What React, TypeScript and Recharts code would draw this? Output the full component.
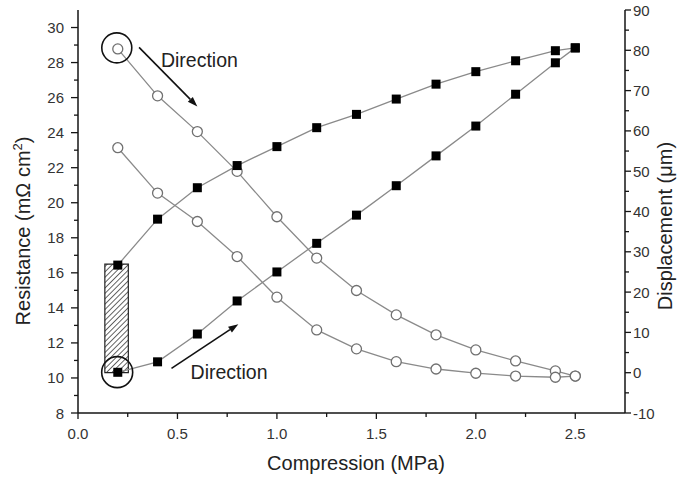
import React from "react"
import { LineChart, Line, XAxis, YAxis, ReferenceArea, ReferenceDot, ReferenceLine } from "recharts"

document.body.style.margin = "0"

const FONT = '"Liberation Sans", Arial, Helvetica, sans-serif'

// compression steps (MPa)
const compression = [0.2, 0.4, 0.6, 0.8, 1.0, 1.2, 1.4, 1.6, 1.8, 2.0, 2.2, 2.4, 2.5]
// contact resistance (mOhm cm2), left axis
const resistanceLoading = [28.78, 26.1, 24.06, 21.79, 19.2, 16.84, 14.99, 13.6, 12.46, 11.6, 10.97, 10.4, 10.11]
const resistanceUnloading = [23.14, 20.55, 18.93, 16.93, 14.61, 12.74, 11.66, 10.93, 10.51, 10.27, 10.11, 10.04, 10.11]
// displacement (um), right axis
const displacementLoading = [0.1, 2.7, 9.6, 17.8, 25.0, 32.1, 39.1, 46.4, 53.8, 61.2, 69.1, 76.9, 80.6]
const displacementUnloading = [26.7, 38.1, 45.9, 51.4, 56.1, 60.8, 64.1, 67.9, 71.6, 74.7, 77.4, 79.9, 80.6]

const xTicks = [0, 0.25, 0.5, 0.75, 1.0, 1.25, 1.5, 1.75, 2.0, 2.25, 2.5]
const leftTicks = [8, 9, 10, 11, 12, 13, 14, 15, 16, 17, 18, 19, 20, 21, 22, 23, 24, 25, 26, 27, 28, 29, 30]
const rightTicks = [-10, -5, 0, 5, 10, 15, 20, 25, 30, 35, 40, 45, 50, 55, 60, 65, 70, 75, 80, 85, 90]

const toRows = (ys: number[]) => compression.map((p, i) => ({ p, v: ys[i] }))

const AXIS = "#151515"
const TICK_TEXT = "#333"

const BottomTick = ({ x, y, payload }: any) => {
  const v = payload.value
  const major = Math.abs(v * 2 - Math.round(v * 2)) < 1e-6
  return (
    <g>
      <line x1={x} x2={x} y1={y} y2={y + (major ? 6 : 4)} stroke={AXIS} strokeWidth={1.3} />
      {major && (
        <text x={x} y={y + 26} textAnchor="middle" fontSize={15} fill={TICK_TEXT} fontFamily={FONT}>
          {v.toFixed(1)}
        </text>
      )}
    </g>
  )
}

const TopTick = ({ x, y }: any) => <line x1={x} x2={x} y1={y} y2={y + 5} stroke={AXIS} strokeWidth={1.3} />

const LeftTick = ({ x, y, payload }: any) => {
  const major = payload.value % 2 === 0
  return (
    <g>
      <line x1={x - (major ? 7 : 4)} x2={x} y1={y} y2={y} stroke={AXIS} strokeWidth={1.3} />
      {major && (
        <text x={x - 14} y={y + 5.5} textAnchor="end" fontSize={15} fill={TICK_TEXT} fontFamily={FONT}>
          {payload.value}
        </text>
      )}
    </g>
  )
}

const RightTick = ({ x, y, payload }: any) => {
  const major = payload.value % 10 === 0
  return (
    <g>
      <line x1={x} x2={x + (major ? 6 : 4)} y1={y} y2={y} stroke={AXIS} strokeWidth={1.3} />
      {major && (
        <text x={x + 8} y={y + 5.5} textAnchor="start" fontSize={15} fill={TICK_TEXT} fontFamily={FONT}>
          {payload.value}
        </text>
      )}
    </g>
  )
}

const OpenCircle = ({ cx, cy }: any) => (
  <circle cx={cx} cy={cy} r={5} fill="#fff" stroke="#707070" strokeWidth={1.3} />
)
const FilledSquare = ({ cx, cy }: any) => <rect x={cx - 4.5} y={cy - 4.5} width={9} height={9} fill="#000" />

const Arrow = ({ x1, y1, x2, y2 }: any) => {
  const a = Math.atan2(y2 - y1, x2 - x1)
  const len = 10
  const w = 3.5
  const bx = x2 - len * Math.cos(a)
  const by = y2 - len * Math.sin(a)
  const pts = [
    `${x2},${y2}`,
    `${bx + w * Math.sin(a)},${by - w * Math.cos(a)}`,
    `${bx - w * Math.sin(a)},${by + w * Math.cos(a)}`,
  ].join(" ")
  return (
    <g>
      <line x1={x1} y1={y1} x2={bx} y2={by} stroke="#111" strokeWidth={1.6} />
      <polygon points={pts} fill="#111" />
    </g>
  )
}

const DirectionText = ({ cx, cy }: any) => (
  <text x={cx} y={cy} fontSize={19.5} fill="#222" fontFamily={FONT}>
    Direction
  </text>
)

const bottomTitle = () => (
  <text x={356} y={470} textAnchor="middle" fontSize={20} fill="#222" fontFamily={FONT}>
    Compression (MPa)
  </text>
)

const leftTitle = () => (
  <text x={30} y={231} transform="rotate(-90 30 231)" textAnchor="middle" fontSize={20} fill="#222" fontFamily={FONT}>
    Resistance (mΩ cm
    <tspan fontSize={13} dy={-8}>2</tspan>
    <tspan dy={8}>)</tspan>
  </text>
)

const rightTitle = () => (
  <text x={672} y={226} transform="rotate(-90 672 226)" textAnchor="middle" fontSize={20} fill="#222" fontFamily={FONT}>
    Displacement (μm)
  </text>
)

export default function App() {
  return (
    <div style={{ width: 686, height: 477, background: "#fff" }}>
      <LineChart width={686} height={477} margin={{ top: 10, right: 0, bottom: 0, left: 0 }}>
        <defs>
          <pattern id="hatch" width={3.8} height={3.8} patternUnits="userSpaceOnUse" patternTransform="rotate(45)">
            <line x1={0} y1={0} x2={0} y2={3.8} stroke="#222" strokeWidth={1.4} />
          </pattern>
        </defs>
        <XAxis
          dataKey="p"
          type="number"
          domain={[0, 2.75]}
          ticks={xTicks}
          interval={0}
          height={64}
          tickSize={0}
          tickMargin={0}
          tickLine={false}
          tick={<BottomTick />}
          axisLine={{ stroke: AXIS, strokeWidth: 1.5 }}
          label={bottomTitle}
        />
        <XAxis
          xAxisId="top"
          orientation="top"
          dataKey="p"
          type="number"
          domain={[0, 2.75]}
          ticks={xTicks}
          interval={0}
          height={0}
          tickSize={0}
          tickMargin={0}
          tickLine={false}
          tick={<TopTick />}
          axisLine={{ stroke: AXIS, strokeWidth: 1.5 }}
        />
        <YAxis
          yAxisId="left"
          type="number"
          domain={[8, 31]}
          ticks={leftTicks}
          interval={0}
          width={78}
          tickSize={0}
          tickMargin={0}
          tickLine={false}
          tick={<LeftTick />}
          axisLine={{ stroke: AXIS, strokeWidth: 1.5 }}
          label={leftTitle}
        />
        <YAxis
          yAxisId="right"
          orientation="right"
          type="number"
          domain={[-10, 90]}
          ticks={rightTicks}
          interval={0}
          width={61}
          tickSize={0}
          tickMargin={0}
          tickLine={false}
          tick={<RightTick />}
          axisLine={{ stroke: AXIS, strokeWidth: 1.5 }}
          label={rightTitle}
        />

        <ReferenceArea
          yAxisId="left"
          x1={0.135}
          x2={0.253}
          y1={10.3}
          y2={16.5}
          fill="url(#hatch)"
          fillOpacity={1}
          stroke="#222"
          strokeWidth={1.2}
        />

        <Line
          yAxisId="left"
          data={toRows(resistanceLoading)}
          dataKey="v"
          stroke="#8a8a8a"
          strokeWidth={1.3}
          dot={<OpenCircle />}
          activeDot={false}
          isAnimationActive={false}
        />
        <Line
          yAxisId="left"
          data={toRows(resistanceUnloading)}
          dataKey="v"
          stroke="#8a8a8a"
          strokeWidth={1.3}
          dot={<OpenCircle />}
          activeDot={false}
          isAnimationActive={false}
        />
        <Line
          yAxisId="right"
          data={toRows(displacementLoading)}
          dataKey="v"
          stroke="#8a8a8a"
          strokeWidth={1.3}
          dot={<FilledSquare />}
          activeDot={false}
          isAnimationActive={false}
        />
        <Line
          yAxisId="right"
          data={toRows(displacementUnloading)}
          dataKey="v"
          stroke="#8a8a8a"
          strokeWidth={1.3}
          dot={<FilledSquare />}
          activeDot={false}
          isAnimationActive={false}
        />

        <ReferenceDot yAxisId="left" x={0.195} y={28.84} r={15} fill="none" stroke="#111" strokeWidth={1.6} />
        <ReferenceDot yAxisId="left" x={0.197} y={10.33} r={15.5} fill="none" stroke="#111" strokeWidth={1.6} />

        <ReferenceLine
          yAxisId="left"
          segment={[{ x: 0.307, y: 28.87 }, { x: 0.6, y: 25.49 }]}
          shape={<Arrow />}
        />
        <ReferenceLine
          yAxisId="left"
          segment={[{ x: 0.47, y: 10.55 }, { x: 0.806, y: 13.07 }]}
          shape={<Arrow />}
        />

        <ReferenceDot yAxisId="left" x={0.417} y={27.77} r={1} shape={<DirectionText />} />
        <ReferenceDot yAxisId="left" x={0.566} y={9.94} r={1} shape={<DirectionText />} />
      </LineChart>
    </div>
  )
}
